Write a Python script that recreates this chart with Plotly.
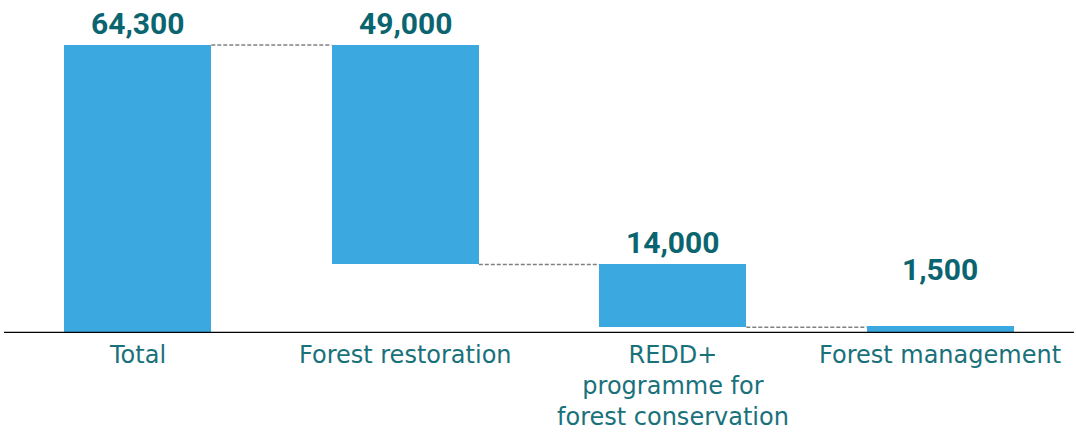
import plotly.graph_objects as go

# Funding breakdown (value in the same units as the labels)
categories = ["Total", "Forest restoration",
              "REDD+<br>programme for<br>forest conservation", "Forest management"]
values = [64300, 49000, 14000, 1500]
value_labels = ["64,300", "49,000", "14,000", "1,500"]

BAR = "#3BA9DF"
VALUE_TXT = "#0B6570"
CAT_TXT = "#19717B"
BAR_W = 0.55

# Waterfall geometry: first bar is the total, the rest step down from it
bases, tops, ends = [], [], []
level = values[0]
for i, v in enumerate(values):
    if i == 0:
        bases.append(0)
        tops.append(v)
        ends.append(v)
    else:
        bottom = max(level - v, 0)
        bases.append(bottom)
        tops.append(bottom + v)
        ends.append(bottom)
        level = bottom

xs = list(range(len(values)))

fig = go.Figure()
fig.add_trace(go.Bar(
    x=xs, y=values, base=bases, width=BAR_W,
    marker=dict(color=BAR, line=dict(width=0)),
    hoverinfo="skip", showlegend=False,
))

# dashed connectors between consecutive bars
shapes = []
for i in range(len(values) - 1):
    shapes.append(dict(
        type="line", xref="x", yref="y",
        x0=xs[i] + BAR_W / 2, x1=xs[i + 1] - BAR_W / 2,
        y0=ends[i], y1=ends[i],
        line=dict(color="#808080", width=1.5, dash="4px,2px"),
    ))
# baseline
shapes.append(dict(type="line", xref="paper", yref="y", x0=0, x1=1, y0=0, y1=0,
                   line=dict(color="#000000", width=2.5)))

annotations = []
label_lift = [0, 0, 0, 35]
for i in xs:
    annotations.append(dict(
        x=xs[i], y=0, xref="x", yref="y", yanchor="top", valign="top",
        yshift=-6, showarrow=False, text=categories[i], align="center",
        font=dict(family="DejaVu Sans", size=24, color=CAT_TXT),
    ))
    annotations.append(dict(
        x=xs[i], y=tops[i], xref="x", yref="y", yanchor="bottom",
        yshift=2 + label_lift[i], showarrow=False, text=value_labels[i],
        font=dict(family="Roboto", size=30, color=VALUE_TXT, weight="bold"),
    ))

fig.update_layout(
    width=1076, height=433,
    margin=dict(l=4, r=2, t=0, b=100),
    paper_bgcolor="white", plot_bgcolor="white",
    xaxis=dict(range=[-0.5, 3.5], showticklabels=False, showgrid=False,
               zeroline=False, showline=False, fixedrange=True),
    yaxis=dict(range=[0, 74350], showticklabels=False, showgrid=False,
               zeroline=False, showline=False, fixedrange=True),
    shapes=shapes, annotations=annotations,
    bargap=0,
)

fig.write_html("out.html")
